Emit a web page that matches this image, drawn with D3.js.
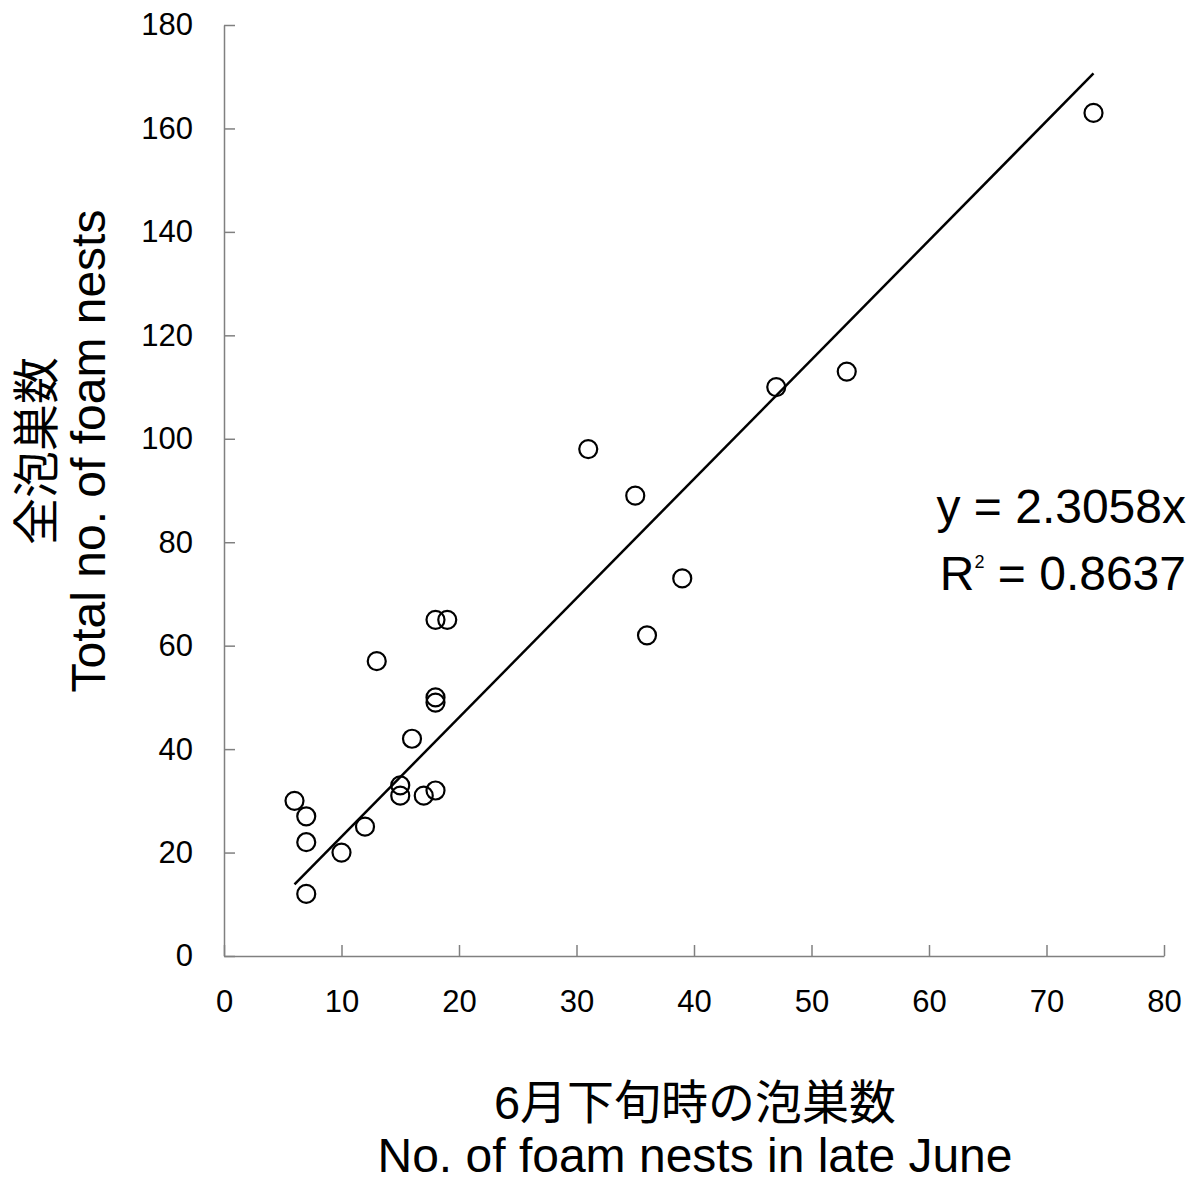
<!DOCTYPE html>
<html lang="ja">
<head>
<meta charset="utf-8">
<title>foam nests</title>
<script src="https://cdn.jsdelivr.net/npm/d3@7"></script>
<style>
body { margin: 0; background: #fff; }
text { font-family: "Liberation Sans", Arial, "Noto Sans CJK JP", sans-serif; fill: #000; }
.axis path, .axis line { stroke: #808080; stroke-width: 1.5; }
.axis text { font-size: 31px; }
</style>
</head>
<body>
<div id="chart"></div>
<script>

// nests counted in late June vs. total nests
var lateJune = [6, 7, 7, 7, 10, 12, 13, 15, 15, 16, 17, 18, 18, 18, 18, 19, 31, 35, 36, 39, 47, 53, 74];
var totalNests = [30, 27, 22, 12, 20, 25, 57, 31, 33, 42, 31, 32, 49, 50, 65, 65, 98, 89, 62, 73, 110, 113, 163];

var slope = 2.3058;
var rSquared = 0.8637;

var xTicks = [0, 10, 20, 30, 40, 50, 60, 70, 80];
var yTicks = [0, 20, 40, 60, 80, 100, 120, 140, 160, 180];

var width = 1196, height = 1183;
var margin = {top: 25, right: 32, bottom: 227, left: 224};

var svg = d3.select("#chart").append("svg")
    .attr("width", width)
    .attr("height", height);

var x = d3.scaleLinear()
    .domain([0, 80])
    .range([margin.left, width - margin.right]);

var y = d3.scaleLinear()
    .domain([0, 180])
    .range([height - margin.bottom, margin.top]);

svg.append("g")
    .attr("class", "axis")
    .attr("transform", "translate(0," + y(0) + ")")
    .call(d3.axisBottom(x).tickValues(xTicks).tickSizeInner(-11).tickSizeOuter(0).tickPadding(34));

svg.append("g")
    .attr("class", "axis")
    .attr("transform", "translate(" + x(0) + ",0)")
    .call(d3.axisLeft(y).tickValues(yTicks).tickSizeInner(-11).tickSizeOuter(0).tickPadding(31));

// trend line through the origin, drawn over the data range
var xExtent = d3.extent(lateJune);
svg.append("line")
    .attr("x1", x(xExtent[0]))
    .attr("y1", y(slope * xExtent[0]))
    .attr("x2", x(xExtent[1]))
    .attr("y2", y(slope * xExtent[1]))
    .attr("stroke", "#000")
    .attr("stroke-width", 2.5);

svg.selectAll(".point")
    .data(d3.zip(lateJune, totalNests))
    .enter().append("circle")
        .attr("class", "point")
        .attr("cx", function(d) { return x(d[0]); })
        .attr("cy", function(d) { return y(d[1]); })
        .attr("r", 9)
        .attr("fill", "none")
        .attr("stroke", "#000")
        .attr("stroke-width", 2.2);

// equation
svg.append("text")
    .attr("x", 1186)
    .attr("y", 523)
    .attr("text-anchor", "end")
    .style("font-size", "48px")
    .text("y = " + slope + "x");

var r2 = svg.append("text")
    .attr("x", 1186)
    .attr("y", 590)
    .attr("text-anchor", "end")
    .style("font-size", "48px");
r2.append("tspan").text("R");
r2.append("tspan").style("font-size", "18px").attr("dy", -22).text("2");
r2.append("tspan").attr("dy", 22).text(" = " + rSquared);

// axis titles
var xTitle = svg.append("text")
    .attr("text-anchor", "middle");
xTitle.append("tspan").attr("x", 695).attr("y", 1119).style("font-size", "47px").text("6月下旬時の泡巣数");
xTitle.append("tspan").attr("x", 695).attr("y", 1172).style("font-size", "48px").text("No. of foam nests in late June");

var yTitle = svg.append("text")
    .attr("text-anchor", "middle")
    .attr("transform", "translate(0,451) rotate(-90)")
    .style("font-size", "47px");
yTitle.append("tspan").attr("x", 0).attr("y", 53).text("全泡巣数");
yTitle.append("tspan").attr("x", 0).attr("y", 105).style("font-size", "48px").text("Total no. of foam nests");

</script>
</body>
</html>
